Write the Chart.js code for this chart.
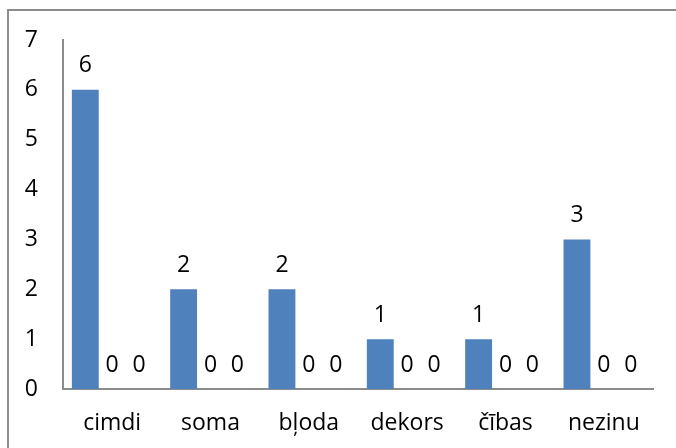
<!DOCTYPE html>
<html>
<head>
<meta charset="utf-8">
<script src="https://cdn.jsdelivr.net/npm/chart.js@4/dist/chart.umd.min.js"></script>
<style>
  html, body { margin: 0; padding: 0; background: #fff; overflow: hidden; }
  #frame { position: absolute; left: 7px; top: 9px; width: 700px; height: 480px; border-left: 2px solid #8c8c8c; border-top: 2px solid #8c8c8c; }
  #wrap { position: absolute; left: 0; top: 0; width: 676px; height: 448px; }
</style>
</head>
<body>
<div id="frame"></div>
<div id="wrap"><canvas id="resultsChart"></canvas></div>
<script>
'use strict';
var categories = ['cimdi', 'soma', 'bļoda', 'dekors', 'čības', 'nezinu'];
var series1 = [6, 2, 2, 1, 1, 3];
var series2 = [0, 0, 0, 0, 0, 0];
var series3 = [0, 0, 0, 0, 0, 0];
var yTicks = [0, 1, 2, 3, 4, 5, 6, 7];

var fontFamily = '"Open Sans", "Liberation Sans", sans-serif';
var fontSize = 23;
var ctx = document.getElementById('resultsChart').getContext('2d');

// draws the value above every bar
var valueLabels = {
  id: 'valueLabels',
  afterDatasetsDraw: function (chart) {
    var c = chart.ctx;
    c.save();
    c.font = fontSize + 'px ' + fontFamily;
    c.fillStyle = '#000';
    c.textAlign = 'center';
    c.textBaseline = 'middle';
    chart.data.datasets.forEach(function (ds, i) {
      var meta = chart.getDatasetMeta(i);
      meta.data.forEach(function (bar, j) {
        c.fillText(String(ds.data[j]), bar.x, bar.y - 24);
      });
    });
    c.restore();
  }
};

var chart = new Chart(ctx, {
  type: 'bar',
  data: {
    labels: categories,
    datasets: [
      { label: 'Series1', data: series1, backgroundColor: '#4F81BD' },
      { label: 'Series2', data: series2, backgroundColor: '#C0504D' },
      { label: 'Series3', data: series3, backgroundColor: '#9BBB59' }
    ]
  },
  options: {
    responsive: true,
    maintainAspectRatio: false,
    animation: false,
    layout: { padding: { left: 0, right: 23, top: 40, bottom: 0 } },
    plugins: {
      legend: { display: false },
      tooltip: { enabled: false }
    },
    datasets: {
      bar: { categoryPercentage: 0.82, barPercentage: 1.0 }
    },
    scales: {
      x: {
        grid: { display: false, drawTicks: false },
        border: { display: true, color: '#8c8c8c', width: 2 },
        ticks: { color: '#000', font: { family: fontFamily, size: fontSize }, padding: 21, maxRotation: 0 },
        afterFit: function (scale) { scale.height = 59; }
      },
      y: {
        min: 0,
        max: 7,
        grid: { display: false, drawTicks: false },
        border: { display: true, color: '#8c8c8c', width: 2 },
        afterBuildTicks: function (scale) {
          scale.ticks = yTicks.map(function (v) { return { value: v }; });
        },
        ticks: { color: '#000', font: { family: fontFamily, size: fontSize }, padding: 25 },
        afterFit: function (scale) { scale.width = 63; }
      }
    }
  },
  plugins: [valueLabels]
});
</script>
</body>
</html>
